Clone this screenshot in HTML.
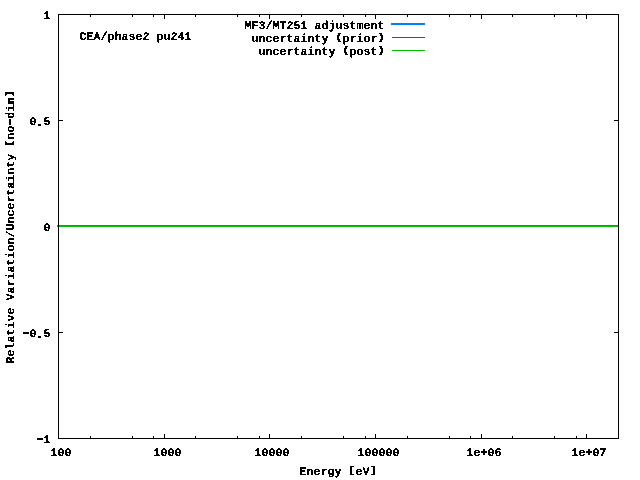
<!DOCTYPE html>
<html><head><meta charset="utf-8"><title>plot</title>
<style>
html,body{margin:0;padding:0;background:#fff;width:640px;height:480px;overflow:hidden}
svg{display:block}
text{filter:url(#th);font-family:"Liberation Mono",monospace;font-weight:bold;font-size:11.667px;fill:#000;stroke:#000;stroke-width:0.2px;text-rendering:geometricPrecision}
svg{will-change:transform}
.h{font-size:20px;stroke-width:0}
.d{font-size:16px;stroke-width:0}
.p{font-size:9.6px;stroke-width:0.9px}
.q{stroke-width:0.7px}
.rb{font-size:9.6px;stroke-width:0.9px}
.b{font-size:9.6px;stroke-width:0.5px}
</style></head><body>
<svg width="640" height="480" viewBox="0 0 640 480" shape-rendering="crispEdges">
<defs><filter id="th" color-interpolation-filters="sRGB"><feComponentTransfer><feFuncA type="discrete" tableValues="0 1"/></feComponentTransfer></filter></defs>
<rect x="0" y="0" width="640" height="480" fill="#fff"/>
<rect x="59" y="14" width="4" height="1" fill="#000"/>
<rect x="614" y="14" width="4" height="1" fill="#000"/>
<rect x="59" y="120" width="4" height="1" fill="#000"/>
<rect x="614" y="120" width="4" height="1" fill="#000"/>
<rect x="59" y="226" width="4" height="1" fill="#000"/>
<rect x="614" y="226" width="4" height="1" fill="#000"/>
<rect x="59" y="332" width="4" height="1" fill="#000"/>
<rect x="614" y="332" width="4" height="1" fill="#000"/>
<rect x="59" y="438" width="4" height="1" fill="#000"/>
<rect x="614" y="438" width="4" height="1" fill="#000"/>
<rect x="58" y="434" width="1" height="4" fill="#000"/>
<rect x="58" y="15" width="1" height="4" fill="#000"/>
<rect x="90" y="436" width="1" height="2" fill="#000"/>
<rect x="90" y="15" width="1" height="2" fill="#000"/>
<rect x="132" y="436" width="1" height="2" fill="#000"/>
<rect x="132" y="15" width="1" height="2" fill="#000"/>
<rect x="153" y="436" width="1" height="2" fill="#000"/>
<rect x="153" y="15" width="1" height="2" fill="#000"/>
<rect x="164" y="434" width="1" height="4" fill="#000"/>
<rect x="164" y="15" width="1" height="4" fill="#000"/>
<rect x="195" y="436" width="1" height="2" fill="#000"/>
<rect x="195" y="15" width="1" height="2" fill="#000"/>
<rect x="237" y="436" width="1" height="2" fill="#000"/>
<rect x="237" y="15" width="1" height="2" fill="#000"/>
<rect x="259" y="436" width="1" height="2" fill="#000"/>
<rect x="259" y="15" width="1" height="2" fill="#000"/>
<rect x="269" y="434" width="1" height="4" fill="#000"/>
<rect x="269" y="15" width="1" height="4" fill="#000"/>
<rect x="301" y="436" width="1" height="2" fill="#000"/>
<rect x="301" y="15" width="1" height="2" fill="#000"/>
<rect x="343" y="436" width="1" height="2" fill="#000"/>
<rect x="343" y="15" width="1" height="2" fill="#000"/>
<rect x="365" y="436" width="1" height="2" fill="#000"/>
<rect x="365" y="15" width="1" height="2" fill="#000"/>
<rect x="375" y="434" width="1" height="4" fill="#000"/>
<rect x="375" y="15" width="1" height="4" fill="#000"/>
<rect x="407" y="436" width="1" height="2" fill="#000"/>
<rect x="407" y="15" width="1" height="2" fill="#000"/>
<rect x="449" y="436" width="1" height="2" fill="#000"/>
<rect x="449" y="15" width="1" height="2" fill="#000"/>
<rect x="470" y="436" width="1" height="2" fill="#000"/>
<rect x="470" y="15" width="1" height="2" fill="#000"/>
<rect x="481" y="434" width="1" height="4" fill="#000"/>
<rect x="481" y="15" width="1" height="4" fill="#000"/>
<rect x="512" y="436" width="1" height="2" fill="#000"/>
<rect x="512" y="15" width="1" height="2" fill="#000"/>
<rect x="554" y="436" width="1" height="2" fill="#000"/>
<rect x="554" y="15" width="1" height="2" fill="#000"/>
<rect x="576" y="436" width="1" height="2" fill="#000"/>
<rect x="576" y="15" width="1" height="2" fill="#000"/>
<rect x="586" y="434" width="1" height="4" fill="#000"/>
<rect x="586" y="15" width="1" height="4" fill="#000"/>
<rect x="57" y="225" width="561" height="2" fill="#0080ff"/>
<rect x="59" y="226" width="559" height="1" fill="#ff0000"/>
<rect x="59" y="226" width="559" height="1" fill="#00c000"/>
<rect x="58" y="14" width="561" height="1" fill="#000"/>
<rect x="58" y="438" width="561" height="1" fill="#000"/>
<rect x="58" y="14" width="1" height="425" fill="#000"/>
<rect x="618" y="14" width="1" height="425" fill="#000"/>
<text transform="translate(43.5,19) scale(1,1.0)">1</text>
<text transform="translate(29.5,125) scale(1,1.0)">0<tspan class="d" dx="-1.8" dy="1.0">.</tspan><tspan dx="-0.8" dy="-1.0">5</tspan></text>
<text transform="translate(43.5,231) scale(1,1.0)">0</text>
<text transform="translate(22.5,337) scale(1,1.0)"><tspan class="h" dx="-2.5" dy="1.45">-</tspan><tspan dx="-2.5" dy="-1.45">0</tspan><tspan class="d" dx="-1.8" dy="1.0">.</tspan><tspan dx="-0.8" dy="-1.0">5</tspan></text>
<text transform="translate(36.5,443) scale(1,1.0)"><tspan class="h" dx="-2.5" dy="1.45">-</tspan><tspan dx="-2.5" dy="-1.45">1</tspan></text>
<text transform="translate(50.5,456) scale(1,1.0)">100</text>
<text transform="translate(153.5,456) scale(1,1.0)">1000</text>
<text transform="translate(254.5,456) scale(1,1.0)">10000</text>
<text transform="translate(357.5,456) scale(1,1.0)">100000</text>
<text transform="translate(466.5,456) scale(1,1.0)">1e<tspan class="q" dx="0" dy="0">+</tspan><tspan dx="0" dy="0">06</tspan></text>
<text transform="translate(571.5,456) scale(1,1.0)">1e<tspan class="q" dx="0" dy="0">+</tspan><tspan dx="0" dy="0">07</tspan></text>
<text transform="translate(299.5,475) scale(1,1.0)">Energy <tspan class="b" dx="0.34" dy="-2">[</tspan><tspan dx="0.9" dy="2">eV</tspan><tspan class="b" dx="0.9" dy="-2">]</tspan></text>
<text transform="translate(79.5,40) scale(1,1.0)">CEA/phase2 pu241</text>
<text transform="translate(244.5,29) scale(1,1.0)">MF3/MT251 adjustment</text>
<text transform="translate(251.5,42) scale(1,1.0)">uncertainty <tspan class="p" dx="0.53" dy="-2">(</tspan><tspan dx="0.71" dy="2">prior</tspan><tspan class="p" dx="0.71" dy="-2">)</tspan></text>
<text transform="translate(258.5,55) scale(1,1.0)">uncertainty <tspan class="p" dx="0.53" dy="-2">(</tspan><tspan dx="0.71" dy="2">post</tspan><tspan class="p" dx="0.71" dy="-2">)</tspan></text>
<text transform="translate(14,363.5) rotate(-90) scale(1,1.0)">Relative Variation/Uncertainty <tspan class="rb" dx="0.34" dy="-2">[</tspan><tspan dx="0.9" dy="2">no</tspan><tspan class="h" dx="-2.5" dy="1.45">-</tspan><tspan dx="-2.5" dy="-1.45">dim</tspan><tspan class="rb" dx="0.9" dy="-2">]</tspan></text>
<rect x="391" y="23" width="34" height="2" fill="#0080ff"/>
<rect x="392" y="37" width="33" height="1" fill="#ff0000"/>
<rect x="392" y="50" width="33" height="1" fill="#00c000"/>
</svg>
</body></html>
